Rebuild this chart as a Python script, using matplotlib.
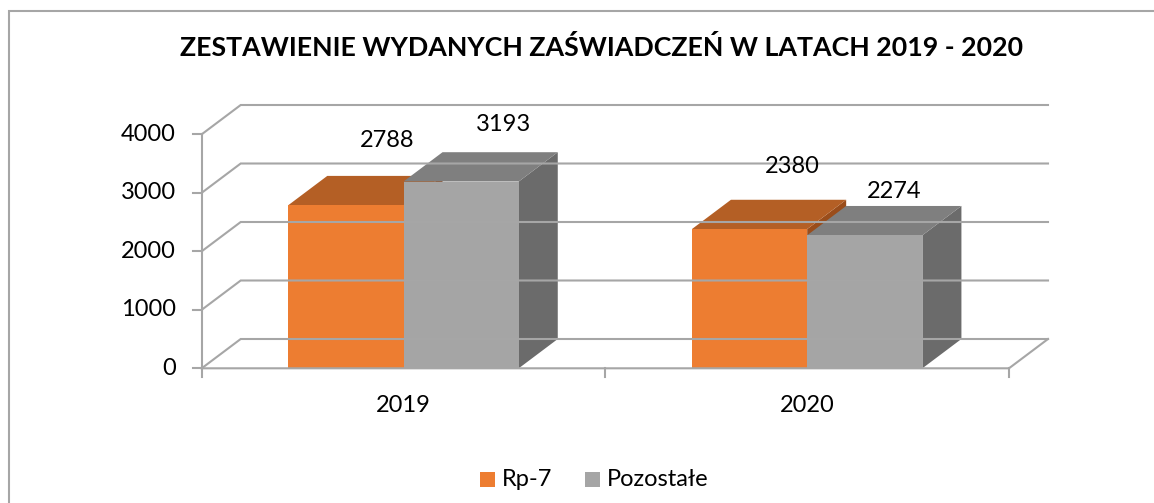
import matplotlib.pyplot as plt
from matplotlib.patches import Polygon, Rectangle
import numpy as np

plt.rcParams['font.family'] = ['Lato', 'DejaVu Sans']

years = ['2019', '2020']
series = ['Rp-7', 'Pozostałe']
rp7 = [2788, 2380]
pozostale = [3193, 2274]
yticks = [0, 1000, 2000, 3000, 4000]

front_cols = ['#ED7D31', '#A5A5A5']
top_cols = ['#B45F25', '#7F7F7F']
side_cols = ['#9A4D1B', '#6B6B6B']
grid_col = '#A6A6A6'

# label nudges (px) as excel placed them
lab_dx = [[2, 3], [4, -10]]
lab_dy = [[35, 28], [33, 14]]

W, H = 1154, 503
fs = 17
fig = plt.figure(figsize=(W / 100, H / 100), dpi=100)
ax = fig.add_axes([201.7 / W, (H - 368.3) / H, (1009 - 201.7) / W, (368.3 - 134.3) / H])
ax.set_xlim(-0.5, len(years) - 0.5)
ax.set_ylim(0, 4000)
ax.axis('off')

# depth of the 3d effect in data units
px_x = (1009 - 201.7) / 2.0
px_y = (368.3 - 134.3) / 4000
dx = 39 / px_x
dy = 29.3 / px_y
x0, x1 = -0.5, len(years) - 0.5

# back wall gridlines + left wall
for v in yticks:
    ax.plot([x0, x0 + dx, x1 + dx], [v, v + dy, v + dy], color=grid_col, lw=1.5,
            clip_on=False, solid_joinstyle='miter')
    ax.plot([x0 - 8.5 / px_x, x0], [v, v], color=grid_col, lw=1.5, clip_on=False)
    ax.text(x0 - 26 / px_x, v, str(v), ha='right', va='center', fontsize=fs,
            color='#000000')
ax.plot([x0, x0], [0, 4000], color=grid_col, lw=1.5, clip_on=False)
# floor
ax.plot([x0, x1, x1 + dx], [0, 0, dy], color=grid_col, lw=1.5, clip_on=False)
for xt in np.arange(x0, x1 + 0.01, 1.0):
    ax.plot([xt, xt], [0, -9 / px_y], color=grid_col, lw=1.5, clip_on=False)

bw = 0.2855
for i, yr in enumerate(years):
    vals = [rp7[i], pozostale[i]]
    for j, v in enumerate(vals):
        xl = i - bw + j * bw
        xr = xl + bw
        # side, top, front
        ax.add_patch(Polygon([(xr, 0), (xr + dx, dy), (xr + dx, v + dy), (xr, v)],
                             closed=True, fc=side_cols[j], ec='none', clip_on=False))
        ax.add_patch(Polygon([(xl, v), (xr, v), (xr + dx, v + dy), (xl + dx, v + dy)],
                             closed=True, fc=top_cols[j], ec='none', clip_on=False))
        ax.add_patch(Rectangle((xl, 0), bw, v, fc=front_cols[j], ec='none', clip_on=False))
        ax.text(xl + bw / 2 + dx + lab_dx[i][j] / px_x, v + dy + lab_dy[i][j] / px_y,
                str(v), ha='center', va='center', fontsize=fs, color='#000000')
    ax.text(i, -37 / px_y, yr, ha='center', va='center', fontsize=fs)

fig.text(602 / W, 1 - 47 / H, 'ZESTAWIENIE WYDANYCH ZAŚWIADCZEŃ W LATACH 2019 - 2020',
         ha='center', va='center', fontsize=19.3, fontweight='bold')

# legend
for k, name in enumerate(series):
    lx = [480, 585][k]
    fig.patches.append(Rectangle((lx / W, 1 - 487 / H), 15 / W, 15 / H,
                                 transform=fig.transFigure, fc=front_cols[k], ec='none'))
    fig.text((lx + 22) / W, 1 - 479 / H, name, ha='left', va='center', fontsize=fs)

# chart border (top and left only visible)
fig.patches.append(Rectangle((9 / W, -0.1), 1.2, 1 - 11 / H + 0.1,
                             transform=fig.transFigure, fc='none', ec='#A6A6A6', lw=1.5))

fig.savefig('out.png', dpi=100)
